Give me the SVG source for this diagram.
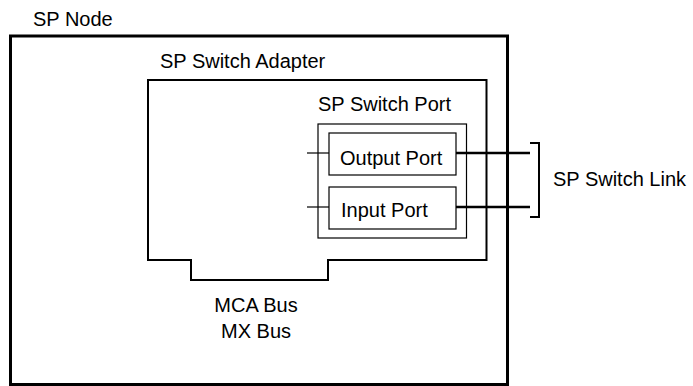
<svg xmlns="http://www.w3.org/2000/svg" width="693" height="386" viewBox="0 0 693 386">
<style>
text{font-family:"Liberation Sans",Arial,sans-serif;font-size:20px;fill:#000}
.thin{fill:none;stroke:#000;stroke-width:1.2}
.mid{fill:none;stroke:#000;stroke-width:2}
.thick{fill:none;stroke:#000;stroke-width:3}
.link{fill:none;stroke:#000;stroke-width:2.5}
</style>
<rect width="693" height="386" fill="#fff"/>
<g id="sp-node">
<rect class="thick" x="10.5" y="36" width="497" height="348.5"/>
<text x="33" y="26">SP Node</text>
</g>
<g id="sp-switch-adapter">
<path class="mid" d="M148,80 H486.5 V260 H328 V280 H191 V260 H148 Z"/>
<text x="160" y="68">SP Switch Adapter</text>
<text x="256" y="312" text-anchor="middle">MCA Bus</text>
<text x="256" y="338" text-anchor="middle">MX Bus</text>
</g>
<g id="sp-switch-port">
<rect class="thin" x="318" y="124" width="148.5" height="114"/>
<text x="318" y="111">SP Switch Port</text>
</g>
<g id="output-port">
<rect class="thin" x="329" y="133" width="127" height="42"/>
<text x="340" y="165">Output Port</text>
</g>
<g id="input-port">
<rect class="thin" x="329" y="187" width="127" height="42"/>
<text x="341" y="217">Input Port</text>
</g>
<g id="sp-switch-link">
<path class="mid" d="M530,143 H539 V217 H530" stroke-width="1.5"/>
<text x="553" y="186">SP Switch Link</text>
</g>
<g id="connectors">
<line class="thin" x1="307" y1="153" x2="329" y2="153"/>
<line class="thin" x1="307" y1="207" x2="329" y2="207"/>
<line class="link" x1="456" y1="153" x2="530" y2="153"/>
<line class="link" x1="456" y1="207" x2="530" y2="207"/>
</g>
</svg>
